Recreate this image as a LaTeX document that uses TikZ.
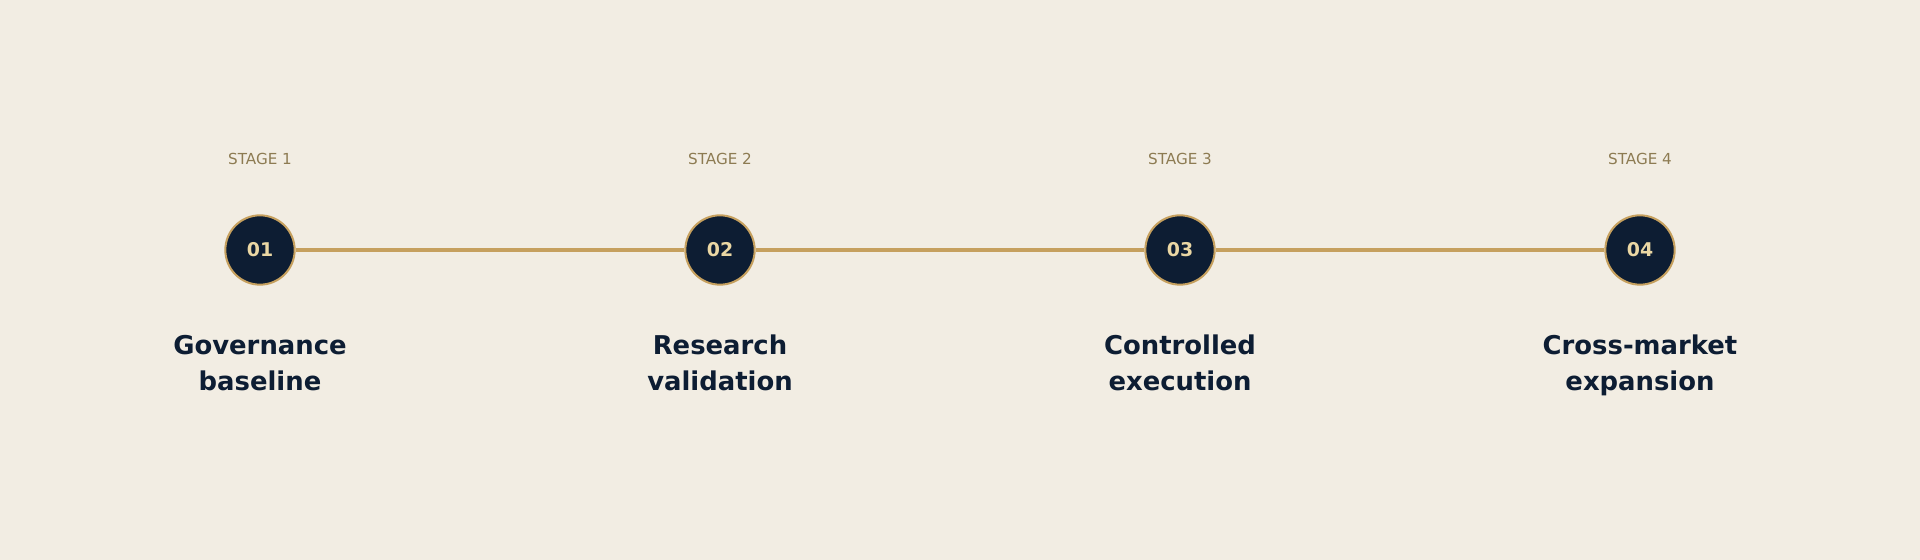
\documentclass[tikz,border=0pt]{standalone}
\usepackage{fontspec}
\setmainfont{DejaVu Sans}
\usetikzlibrary{positioning}

\definecolor{paper}{HTML}{F2EDE3}
\definecolor{navy}{HTML}{0D1D33}
\definecolor{gold}{HTML}{C6A05E}
\definecolor{pale}{HTML}{EAD7A4}
\definecolor{tagcol}{HTML}{8D7B52}

\tikzset{
	stagedot/.style={circle, draw=gold, line width=1.5pt, fill=navy, minimum size=52pt, inner sep=0pt,
		text=pale, font=\bfseries\fontsize{14.2}{16}\selectfont},
	stagetag/.style={anchor=base, text=tagcol, font=\fontsize{11.4}{14}\selectfont},
	stagetitle/.style={anchor=base, align=center, text=navy, font=\bfseries\fontsize{19.4}{27}\selectfont}
}

\begin{document}
\begin{tikzpicture}[x=0.75pt, y=0.75pt]
	\fill [paper] (0,0) rectangle (1920,560);
	\useasboundingbox (0,0) rectangle (1920,560);
	% stage dots
	\node [stagedot] (d1) at (260,310) {01};
	\node [stagedot] (d2) at (720,310) {02};
	\node [stagedot] (d3) at (1180,310) {03};
	\node [stagedot] (d4) at (1640,310) {04};
	\draw [gold, line width=2.3pt] (d1) -- (d2) (d2) -- (d3) (d3) -- (d4);
	% tags above
	\node [stagetag] (t1) at (260,395) {STAGE 1};
	\node [stagetag] (t2) at (720,395) {STAGE 2};
	\node [stagetag] (t3) at (1180,395) {STAGE 3};
	\node [stagetag] (t4) at (1640,395) {STAGE 4};
	% titles below (base = last line)
	\node [stagetitle] (n1) at (260,169) {Governance\\baseline};
	\node [stagetitle] (n2) at (720,169) {Research\\validation};
	\node [stagetitle] (n3) at (1180,169) {Controlled\\execution};
	\node [stagetitle] (n4) at (1640,169) {Cross-market\\expansion};
\end{tikzpicture}
\end{document}
